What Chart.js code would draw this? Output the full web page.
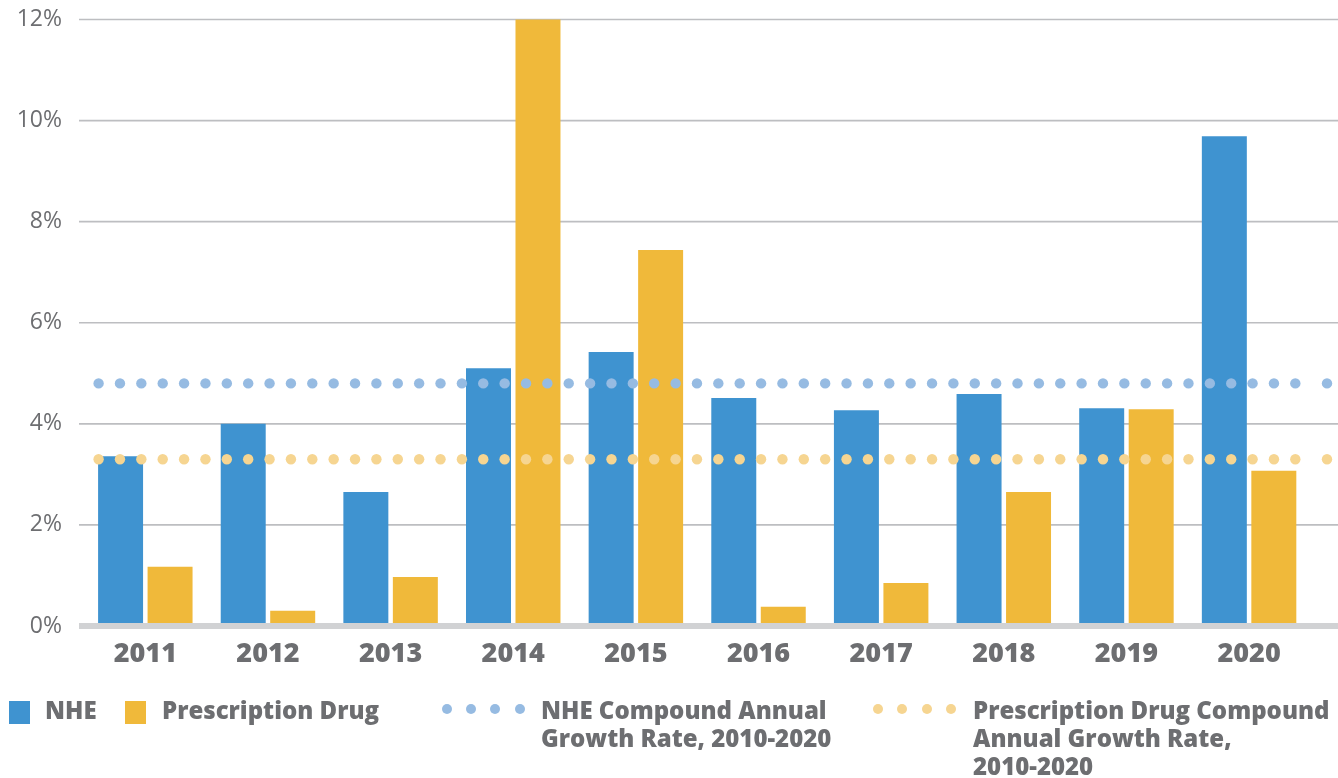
<!DOCTYPE html>
<html lang="en">
<head>
  <meta charset="UTF-8" />
  <title>NHE vs Prescription Drug Growth</title>
  <script src="https://cdn.jsdelivr.net/npm/chart.js"></script>
  <style>
    body {
      margin: 0;
      background: #fff;
      font-family: "Open Sans", Arial, sans-serif;
    }
    #wrap {
      position: relative;
      width: 1338px;
      height: 778px;
    }
    .legend {
      position: absolute;
      color: #6d6e71;
      font-weight: 800;
      font-size: 24px;
      line-height: 28px;
      white-space: nowrap;
    }
    .swatch {
      position: absolute;
      width: 21px;
      height: 23px;
    }
    .dot {
      position: absolute;
      width: 10px;
      height: 10px;
      border-radius: 50%;
    }
  </style>
</head>
<body>
  <div id="wrap">
    <canvas id="growthChart"></canvas>

    <div class="swatch" style="left:9px;top:701px;background:#3f93d0"></div>
    <div class="legend" style="left:45px;top:696px">NHE</div>
    <div class="swatch" style="left:125px;top:701px;background:#f0b93a"></div>
    <div class="legend" style="left:162px;top:696px">Prescription Drug</div>

    <div class="dot" style="left:442px;top:704px;background:#96bbe2"></div>
    <div class="dot" style="left:466px;top:704px;background:#96bbe2"></div>
    <div class="dot" style="left:490px;top:704px;background:#96bbe2"></div>
    <div class="dot" style="left:515px;top:704px;background:#96bbe2"></div>
    <div class="legend" style="left:541px;top:696px">NHE Compound Annual<br>Growth Rate, 2010-2020</div>

    <div class="dot" style="left:873px;top:704px;background:#f6d591"></div>
    <div class="dot" style="left:897px;top:704px;background:#f6d591"></div>
    <div class="dot" style="left:922px;top:704px;background:#f6d591"></div>
    <div class="dot" style="left:946px;top:704px;background:#f6d591"></div>
    <div class="legend" style="left:973px;top:696px">Prescription Drug Compound<br>Annual Growth Rate,<br>2010-2020</div>
  </div>

  <script>
    // annual growth, percent
    const years = ['2011', '2012', '2013', '2014', '2015', '2016', '2017', '2018', '2019', '2020'];
    const nheGrowth = [3.36, 4.00, 2.65, 5.10, 5.42, 4.51, 4.27, 4.59, 4.31, 9.69];
    const rxGrowth = [1.17, 0.30, 0.97, 12.4, 7.44, 0.38, 0.85, 2.65, 4.29, 3.07];

    // compound annual growth 2010-2020
    const nheCagr = 4.8;
    const rxCagr = 3.3;

    const yMax = 12;
    const yStep = 2;

    const gray = '#6d6e71';

    // gridlines, baseline and the dotted CAGR rows
    const decorations = {
      id: 'decorations',
      beforeDatasetsDraw(chart) {
        const { ctx, chartArea, width } = chart;
        const y = chart.scales.y;
        ctx.save();
        ctx.strokeStyle = '#bdbec1';
        ctx.lineWidth = 1.6;
        y.ticks.forEach(t => {
          if (t.value === 0) return;
          const py = y.getPixelForValue(t.value);
          ctx.beginPath();
          ctx.moveTo(chartArea.left - 5, py);
          ctx.lineTo(width, py);
          ctx.stroke();
        });
        ctx.restore();
      },
      afterDatasetsDraw(chart) {
        const { ctx, chartArea, width } = chart;
        const y = chart.scales.y;
        ctx.save();

        // thick zero line
        const p0 = y.getPixelForValue(0);
        ctx.strokeStyle = '#d1d2d4';
        ctx.lineWidth = 6;
        ctx.beginPath();
        ctx.moveTo(chartArea.left - 5, p0);
        ctx.lineTo(width, p0);
        ctx.stroke();

        const dotRow = (value, color) => {
          const py = y.getPixelForValue(value);
          ctx.fillStyle = color;
          const xs = [];
          for (let x = chartArea.left + 14.6; x <= chartArea.right - 10; x += 21.37) xs.push(x);
          xs.push(width - 11);
          xs.forEach(x => {
            ctx.beginPath();
            ctx.arc(x, py, 5.2, 0, Math.PI * 2);
            ctx.fill();
          });
        };
        dotRow(nheCagr, '#96bbe2');
        dotRow(rxCagr, '#f6d591');
        ctx.restore();
      }
    };

    Chart.defaults.font.family = '"Open Sans", Arial, sans-serif';
    Chart.defaults.color = gray;

    new Chart(document.getElementById('growthChart'), {
      type: 'bar',
      data: {
        labels: years,
        datasets: [
          {
            label: 'NHE',
            data: nheGrowth,
            backgroundColor: '#3f93d0',
            categoryPercentage: 0.807,
            barPercentage: 0.909
          },
          {
            label: 'Prescription Drug',
            data: rxGrowth,
            backgroundColor: '#f0b93a',
            categoryPercentage: 0.807,
            barPercentage: 0.909
          }
        ]
      },
      options: {
        responsive: true,
        maintainAspectRatio: false,
        animation: false,
        layout: {
          padding: { top: 19.5, right: 27.6, bottom: 0, left: 0 }
        },
        scales: {
          x: {
            grid: { display: false, drawTicks: false },
            border: { display: false },
            ticks: {
              padding: 12,
              font: { size: 27, weight: 800 },
              color: gray
            },
            afterFit(scale) {
              scale.height = 152;
              scale.paddingLeft = 0;
              scale.paddingRight = 0;
            }
          },
          y: {
            min: 0,
            max: yMax,
            grid: { display: false, drawTicks: false },
            border: { display: false },
            ticks: {
              stepSize: yStep,
              padding: 22,
              font: { size: 23, weight: 500 },
              color: gray,
              callback: v => v + '%'
            },
            afterFit(scale) {
              scale.width = 84;
              scale.paddingTop = 0;
              scale.paddingBottom = 0;
            }
          }
        },
        plugins: {
          legend: { display: false },
          tooltip: { enabled: false }
        }
      },
      plugins: [decorations]
    });
  </script>
</body>
</html>
